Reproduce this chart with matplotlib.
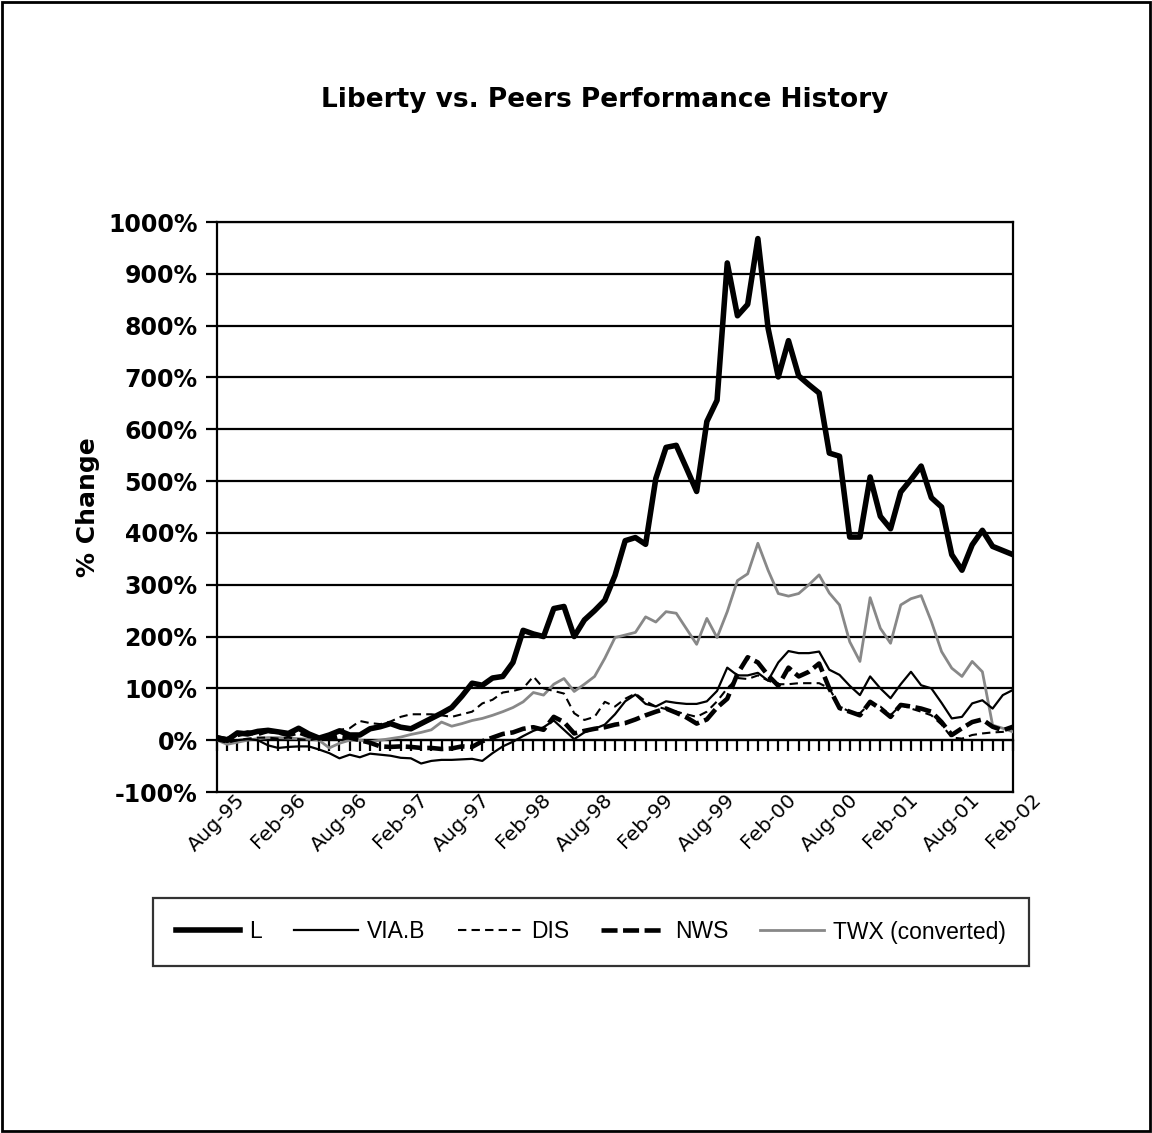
import matplotlib
matplotlib.use("Agg")
import matplotlib.pyplot as plt
from matplotlib.patches import Rectangle
import numpy as np
import pandas as pd

# monthly, Aug-95 .. Feb-02
months = pd.date_range("1995-08-01", periods=79, freq="MS").strftime("%b-%y").tolist()

L = [5, 0, 14, 12, 17, 19, 16, 13, 23, 12,
     4, 10, 18, 10, 10, 22, 26, 32, 25, 22,
     32, 42, 52, 63, 85, 110, 106, 120, 123, 150,
     212, 205, 200, 254, 258, 200, 232, 250, 270, 318,
     385, 391, 378, 505, 565, 569, 525, 480, 615, 656,
     921, 819, 841, 968, 795, 701, 771, 703, 686, 670,
     554, 548, 392, 392, 508, 432, 408, 479, 503, 529,
     468, 450, 358, 328, 377, 405, 374, 366, 358]

VIA_B = [0, -3, 0, 2, 0, -10, -15, -13, -12, -12,
         -18, -25, -35, -28, -33, -26, -28, -30, -34, -35,
         -45, -40, -38, -38, -37, -36, -40, -25, -12, -3,
         8, 18, 25, 38, 20, 2, 15, 22, 30, 50,
         75, 88, 70, 65, 75, 72, 70, 70, 75, 95,
         140, 125, 125, 130, 115, 150, 172, 168, 168, 171,
         136, 126, 105, 87, 123, 100, 81, 108, 132, 106,
         100, 72, 42, 45, 71, 77, 61, 87, 97]

DIS = [0, -5, 0, 3, 5, 5, 3, 5, 2, 0,
       3, 10, 20, 23, 37, 33, 31, 36, 45, 50,
       50, 50, 48, 45, 50, 55, 71, 78, 92, 95,
       100, 123, 100, 95, 90, 52, 39, 45, 74, 65,
       80, 90, 75, 65, 60, 55, 50, 45, 55, 75,
       100, 120, 118, 125, 115, 108, 108, 110, 110, 110,
       100, 65, 55, 52, 71, 65, 48, 68, 61, 55,
       48, 30, 5, 3, 10, 13, 15, 16, 24]

NWS = [5, 2, 10, 15, 12, 18, 15, 10, 15, 8,
       5, 3, 8, 5, 0, -5, -12, -13, -12, -13,
       -15, -15, -17, -16, -12, -13, -2, 5, 12, 15,
       22, 25, 20, 45, 35, 13, 18, 22, 25, 30,
       33, 40, 48, 55, 61, 53, 44, 32, 40, 63,
       80, 128, 160, 150, 125, 105, 140, 123, 132, 148,
       100, 62, 55, 48, 74, 61, 45, 68, 65, 61,
       55, 35, 10, 23, 35, 40, 26, 19, 26]

TWX = [0, -8, -4, 0, 3, 5, 5, 4, 3, 2,
       0, -15, -6, 0, 0, -3, 0, 3, 6, 11,
       15, 20, 35, 27, 32, 38, 42, 48, 55, 63,
       74, 92, 87, 108, 119, 94, 108, 123, 158, 198,
       203, 208, 238, 228, 248, 245, 215, 185, 235, 198,
       248, 308, 321, 380, 328, 283, 278, 283, 300, 319,
       284, 261, 190, 152, 275, 216, 187, 261, 273, 279,
       229, 171, 139, 123, 152, 132, 29, 23, 16]

y_ticks = list(range(-100, 1001, 100))

fig = plt.figure(figsize=(11.52, 11.33), dpi=100)
ax = fig.add_axes([217 / 1152, 1 - 792 / 1133, (1013 - 217) / 1152, (792 - 222) / 1133])

x = np.arange(len(months))
ax.plot(x, TWX, color="#888888", lw=2.0, zorder=3)
ax.plot(x, DIS, color="black", lw=1.5, ls=(0, (4, 2.5)), zorder=4)
ax.plot(x, VIA_B, color="black", lw=1.6, zorder=4)
ax.plot(x, NWS, color="black", lw=3.3, ls=(0, (3.5, 1.2)), zorder=5)
ax.plot(x, L, color="black", lw=4.0, zorder=6)

ax.set_xlim(0, len(months) - 1)
ax.set_ylim(-100, 1000)
ax.set_yticks(y_ticks)
ax.set_yticklabels([f"{v}%" for v in y_ticks], fontsize=17, fontweight="bold")
ax.yaxis.grid(True, color="black", lw=1.6)
ax.set_axisbelow(True)
ax.tick_params(axis="y", direction="out", length=8, width=1.6, pad=6)

# x axis crosses at 0%
ax.spines["bottom"].set_position(("data", 0))
for s in ax.spines.values():
    s.set_linewidth(1.6)
ax.axhline(-100, color="black", lw=1.6, clip_on=False)

ax.set_xticks(x[::6])
ax.set_xticklabels(months[::6], fontsize=14.5, rotation=45, ha="center")
ax.set_xticks(x, minor=True)
ax.tick_params(axis="x", which="both", direction="out", length=8, width=1.6)
ax.tick_params(axis="x", which="major", pad=28)

ax.set_ylabel("% Change", fontsize=18, fontweight="bold", labelpad=6)

fig.text(605 / 1152, 1 - 100 / 1133, "Liberty vs. Peers Performance History",
         ha="center", va="center", fontsize=19, fontweight="bold")

handles = [plt.Line2D([], [], color="black", lw=4.0),
           plt.Line2D([], [], color="black", lw=1.6),
           plt.Line2D([], [], color="black", lw=1.5, ls=(0, (4, 2.5))),
           plt.Line2D([], [], color="black", lw=3.3, ls=(0, (3.5, 1.2))),
           plt.Line2D([], [], color="#888888", lw=2.0)]
leg = fig.legend(handles, ["L", "VIA.B", "DIS", "NWS", "TWX (converted)"],
                 loc="center", bbox_to_anchor=(591 / 1152, 1 - 932 / 1133), ncol=5,
                 prop=dict(family="Liberation Sans", size=16.5), frameon=True,
                 fancybox=False, edgecolor="black", borderpad=1.0,
                 handlelength=2.8, handletextpad=0.4, columnspacing=1.4)
leg.get_frame().set_linewidth(1.6)

fig.patches.append(Rectangle((0.002, 0.002), 0.996, 0.996, transform=fig.transFigure,
                             fill=False, edgecolor="black", lw=2))

fig.savefig("out.png", dpi=100)
